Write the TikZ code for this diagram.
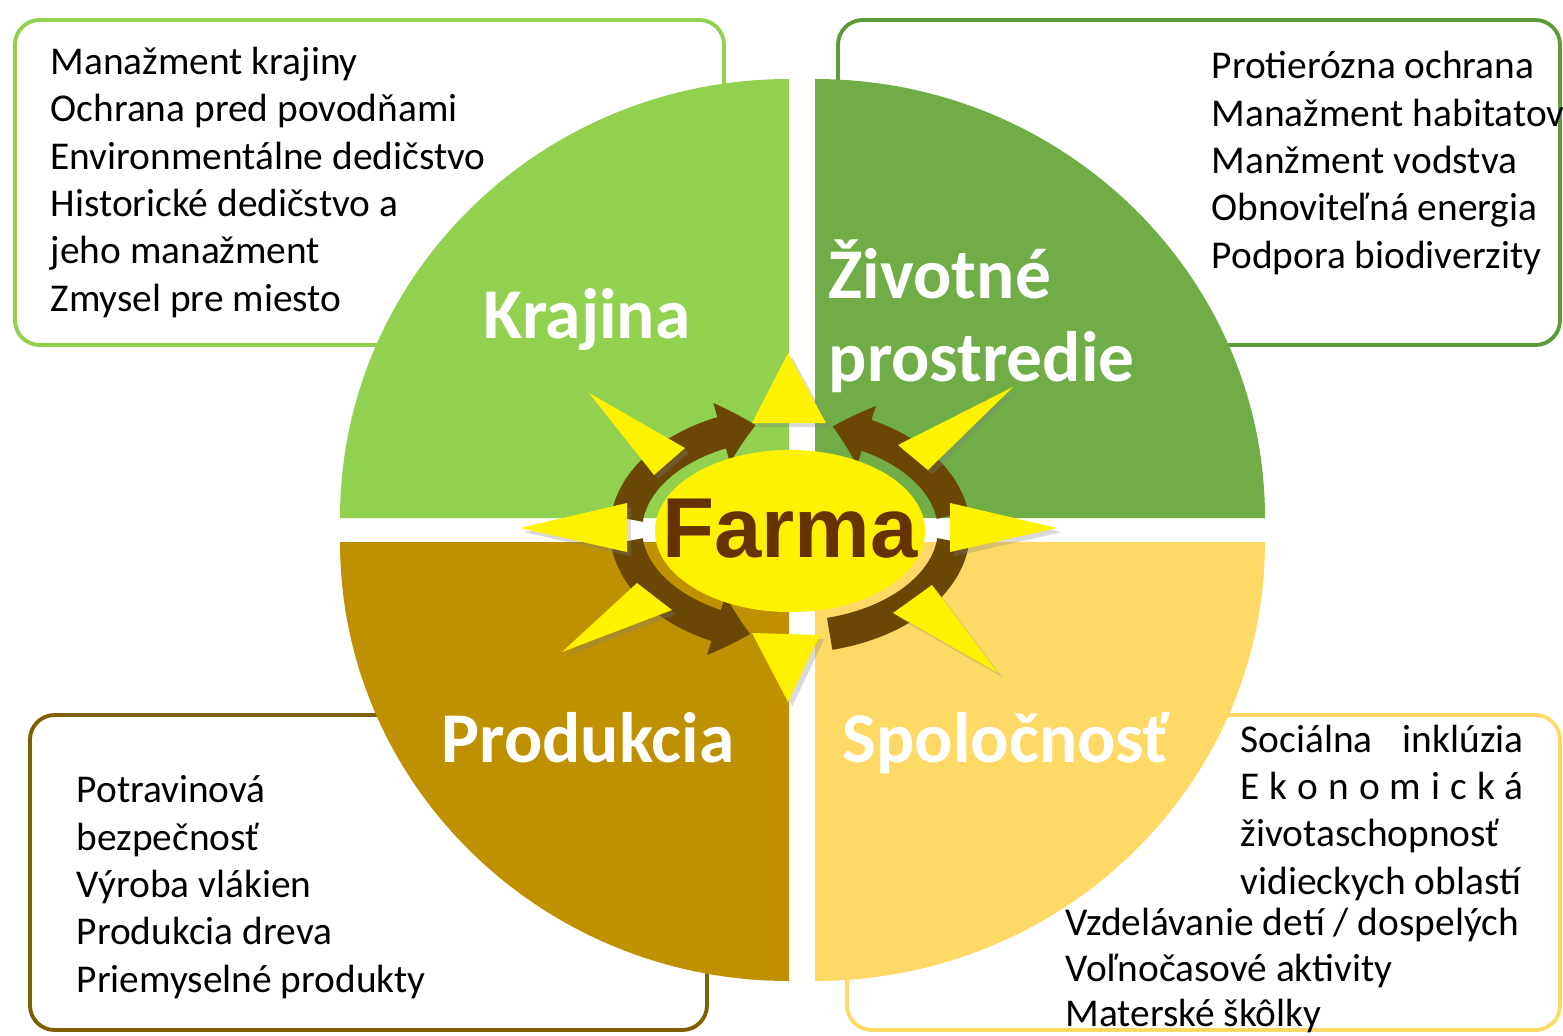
\documentclass[tikz,border=0pt]{standalone}
\usepackage{fontspec}
\setmainfont{Carlito}
\newfontfamily\farmafont{Liberation Sans}
\usetikzlibrary{positioning,arrows.meta,bending,shadows,shapes.geometric}

\definecolor{krajcol}{HTML}{92D050}
\definecolor{zivcol}{HTML}{70AD47}
\definecolor{prodcol}{HTML}{BF9000}
\definecolor{spolcol}{HTML}{FFD966}
\definecolor{zivline}{HTML}{5E9A3A}
\definecolor{prodline}{HTML}{7F6000}
\definecolor{arrbrown}{HTML}{6B4706}
\definecolor{farmbrown}{HTML}{663300}

\tikzset{
  box/.style={rounded corners=7pt, line width=1.1pt, fill=white},
  head/.style={font=\bfseries\fontsize{20.3}{23.6}\selectfont, text=white, inner sep=0pt, anchor=base west, align=left},
  items/.style={font=\fontsize{11.2}{13.46}\selectfont, inner sep=0pt, anchor=base west, align=left},
  ray/.style={fill=yellow, drop shadow={shadow xshift=1.2pt, shadow yshift=-1.2pt, opacity=.3}},
  turn/.style={draw=arrbrown, line width=9.2pt}
}

\begin{document}
\begin{tikzpicture}[x=0.01cm, y=0.01cm]
    \useasboundingbox (0,0) rectangle (1563,-1036);

    % boxes behind the circle
    \draw[box, draw=krajcol] (15,-20) rectangle (724,-345);
    \draw[box, draw=zivline] (838,-20) rectangle (1560,-345);
    \draw[box, draw=prodline] (30,-715) rectangle (707,-1030);
    \draw[box, draw=spolcol] (847,-715) rectangle (1560,-1030);

    % four quarters
    \fill[krajcol] (789,-518) -- (340,-518) arc[start angle=180, end angle=90, x radius=449, y radius=439] -- cycle;
    \fill[zivcol] (815,-518) -- (815,-79) arc[start angle=90, end angle=0, x radius=450, y radius=439] -- cycle;
    \fill[prodcol] (789,-542) -- (789,-981) arc[start angle=270, end angle=180, x radius=449, y radius=439] -- cycle;
    \fill[spolcol] (815,-542) -- (1265,-542) arc[start angle=0, end angle=-90, x radius=450, y radius=439] -- cycle;

    % lists (anchored at the baseline of their last line)
    \node[items] (LK) at (50,-311) {Manažment krajiny\\Ochrana pred povodňami\\Environmentálne dedičstvo\\Historické dedičstvo a\\jeho manažment\\Zmysel pre miesto};
    \node[items] (LZ) at (1211,-268) {Protierózna ochrana\\Manažment habitatov\\Manžment vodstva\\Obnoviteľná energia\\Podpora biodiverzity};
    \node[items] (LP) at (76,-992) {Potravinová\\bezpečnosť\\Výroba vlákien\\Produkcia dreva\\Priemyselné produkty};
    \node[items] (LS) at (1240,-894) {\makebox[2.83cm][s]{Sociálna inklúzia}\\\makebox[2.83cm][s]{E k o n o m i c k á}\\životaschopnosť\\vidieckych oblastí};
    \node[items, font=\fontsize{11.2}{12.8}\selectfont] (LT) at (1065,-1026) {Vzdelávanie detí / dospelých\\Voľnočasové aktivity\\Materské škôlky};

    \node[head] (K) at (483,-338) {Krajina};
    \node[head] (Z) at (828,-381) {Životné\\prostredie};
    \node[head] (P) at (441,-762) {Produkcia};
    \node[head] (S) at (842,-762) {Spoločnosť};

    % brown turning arrows
    \coordinate (O) at (790,-530);
    \draw[turn, -{Triangle[bend, length=10pt, width=17pt]}] (O) ++(174:164 and 107) arc[start angle=174, end angle=102, x radius=164, y radius=107];
    \draw[turn, -{Triangle[bend, length=10pt, width=17pt]}] (O) ++(8:164 and 107) arc[start angle=8, end angle=75, x radius=164, y radius=107];
    \draw[turn, -{Triangle[bend, length=10pt, width=17pt]}] (O) ++(186:164 and 107) arc[start angle=186, end angle=256, x radius=164, y radius=107];
    \draw[turn] (O) ++(354:164 and 107) arc[start angle=354, end angle=284, x radius=164, y radius=107];

    % sun rays
    \foreach \a/\b/\c in {{788,-353}/{752,-423}/{826,-423}, {1013,-387}/{898,-445}/{928,-470},
                          {1057,-528}/{950,-503}/{950,-552}, {998,-673}/{893,-613}/{932,-585},
                          {788,-702}/{752,-633}/{820,-635}, {562,-652}/{637,-583}/{672,-610},
                          {520,-528}/{627,-503}/{627,-552}, {589,-393}/{685,-448}/{654,-475}}
        \fill[ray] (\a) -- (\b) -- (\c) -- cycle;

    \node[ellipse, fill=yellow, minimum width=2.7cm, minimum height=1.62cm, inner sep=0pt] (E) at (790,-531) {};
    \node[font=\farmafont\bfseries\fontsize{24.2}{29}\selectfont, text=farmbrown, anchor=base, inner sep=0pt] (F) at (790,-557) {Farma};
\end{tikzpicture}
\end{document}
